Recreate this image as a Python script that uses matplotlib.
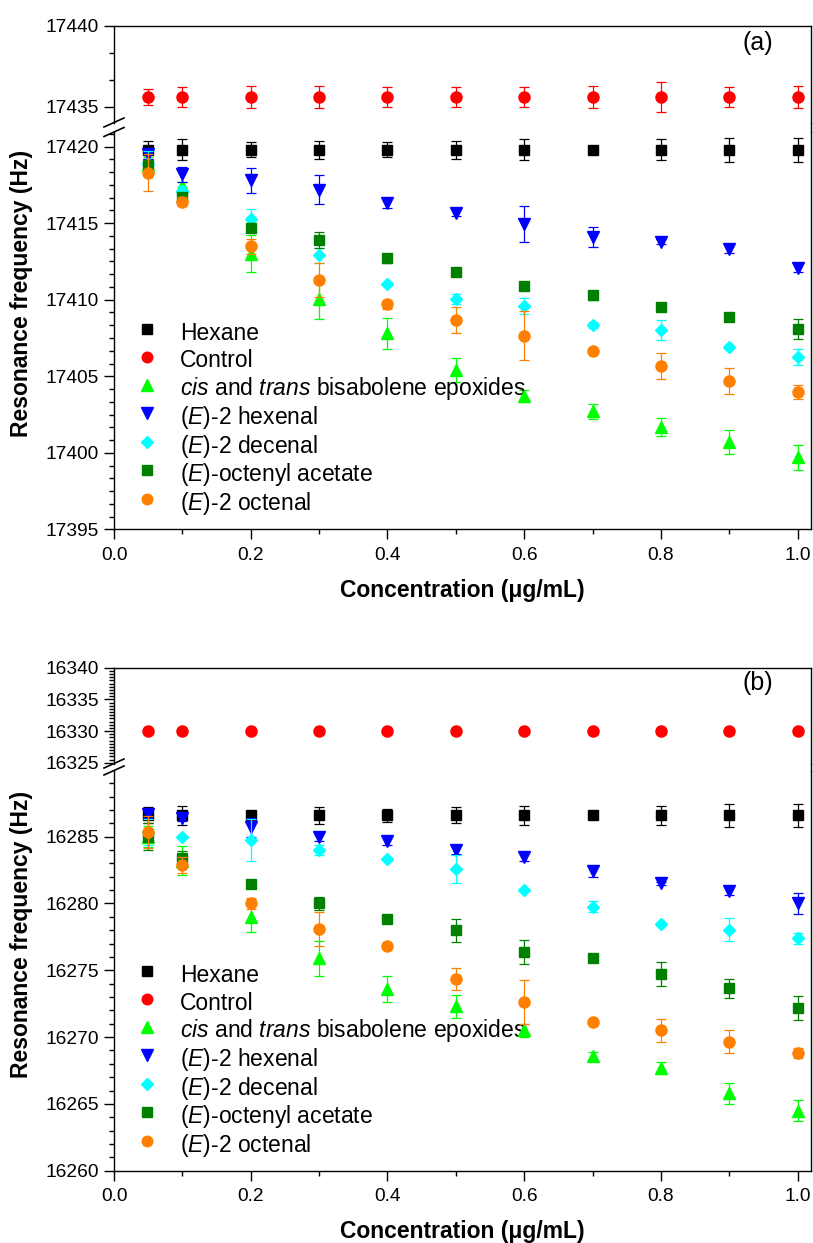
import matplotlib
matplotlib.use("Agg")
import matplotlib.pyplot as plt
from matplotlib.lines import Line2D
from matplotlib.ticker import MultipleLocator, FormatStrFormatter

plt.rcParams["font.family"] = ["Liberation Sans", "DejaVu Sans"]
plt.rcParams["mathtext.fontset"] = "custom"
plt.rcParams["mathtext.rm"] = "Liberation Sans"
plt.rcParams["mathtext.it"] = "Liberation Sans:italic"
plt.rcParams["mathtext.bf"] = "Liberation Sans:bold"

# ── data ──────────────────────────────────────────────────────────────────
conc = [0.05, 0.1, 0.2, 0.3, 0.4, 0.5, 0.6, 0.7, 0.8, 0.9, 1.0]

labels = ["Hexane", "Control",
          r"$\it{cis}$ and $\it{trans}$ bisabolene epoxides",
          r"$\it{(E)}$-2 hexenal", r"$\it{(E)}$-2 decenal",
          r"($\it{E}$)-octenyl acetate", r"$\it{(E)}$-2 octenal"]

# panel (a)
hexane_a = [17419.8, 17419.8, 17419.8, 17419.8, 17419.8, 17419.8, 17419.8, 17419.8, 17419.8, 17419.8, 17419.8]
hexane_a_err = [0.6, 0.7, 0.5, 0.6, 0.5, 0.6, 0.7, 0.1, 0.7, 0.8, 0.8]
control_a = [17435.6, 17435.6, 17435.6, 17435.6, 17435.6, 17435.6, 17435.6, 17435.6, 17435.6, 17435.6, 17435.6]
control_a_err = [0.5, 0.6, 0.7, 0.7, 0.6, 0.6, 0.6, 0.7, 0.9, 0.6, 0.7]
cis_a = [17418.8, 17417.4, 17413.0, 17410.05, 17407.8, 17405.4, 17403.7, 17402.7, 17401.7, 17400.7, 17399.7]
cis_a_err = [0.5, 0.3, 1.2, 1.3, 1.0, 0.8, 0.4, 0.5, 0.6, 0.8, 0.8]
hexenal_a = [17419.5, 17418.2, 17417.8, 17417.2, 17416.3, 17415.7, 17414.95, 17414.1, 17413.8, 17413.3, 17412.1]
hexenal_a_err = [0.3, 0.5, 0.8, 0.95, 0.3, 0.2, 1.2, 0.65, 0.15, 0.25, 0.3]
decenal_a = [17418.9, 17417.1, 17415.3, 17412.9, 17411.0, 17410.05, 17409.6, 17408.35, 17408.0, 17406.9, 17406.25]
decenal_a_err = [0.8, 0.3, 0.6, 0.5, 0.1, 0.35, 0.5, 0.2, 0.65, 0.1, 0.5]
octenyl_a = [17418.8, 17416.7, 17414.7, 17413.9, 17412.7, 17411.8, 17410.9, 17410.3, 17409.5, 17408.85, 17408.1]
octenyl_a_err = [0.3, 0.3, 0.3, 0.5, 0.3, 0.1, 0.1, 0.3, 0.1, 0.1, 0.65]
octenal_a = [17418.3, 17416.4, 17413.5, 17411.3, 17409.7, 17408.7, 17407.65, 17406.65, 17405.65, 17404.7, 17403.95]
octenal_a_err = [1.2, 0.3, 0.5, 1.1, 0.3, 0.85, 1.6, 0.1, 0.85, 0.85, 0.45]

# panel (b)
hexane_b = [16286.6, 16286.6, 16286.6, 16286.6, 16286.6, 16286.6, 16286.6, 16286.6, 16286.6, 16286.6, 16286.6]
hexane_b_err = [0.6, 0.7, 0.3, 0.65, 0.5, 0.6, 0.7, 0.1, 0.7, 0.85, 0.85]
control_b = [16330.0, 16330.0, 16330.0, 16330.0, 16330.0, 16330.0, 16330.0, 16330.0, 16330.0, 16330.0, 16330.0]
control_b_err = [0.2, 0.2, 0.2, 0.2, 0.2, 0.2, 0.2, 0.2, 0.4, 0.2, 0.2]
cis_b = [16285.0, 16283.2, 16279.0, 16275.9, 16273.6, 16272.3, 16270.5, 16268.55, 16267.7, 16265.8, 16264.5]
cis_b_err = [0.8, 1.1, 1.1, 1.3, 1.0, 0.85, 0.5, 0.35, 0.45, 0.8, 0.8]
hexenal_b = [16286.7, 16286.4, 16285.7, 16285.0, 16284.7, 16284.0, 16283.45, 16282.4, 16281.5, 16280.9, 16280.0]
hexenal_b_err = [0.3, 0.2, 0.7, 0.3, 0.3, 0.3, 0.3, 0.4, 0.1, 0.3, 0.8]
decenal_b = [16285.35, 16285.0, 16284.75, 16284.0, 16283.35, 16282.6, 16281.0, 16279.75, 16278.45, 16278.05, 16277.4]
decenal_b_err = [1.0, 0.1, 1.6, 0.4, 0.1, 1.05, 0.1, 0.4, 0.1, 0.85, 0.4]
octenyl_b = [16285.0, 16283.4, 16281.45, 16280.0, 16278.8, 16278.0, 16276.4, 16275.9, 16274.7, 16273.65, 16272.2]
octenyl_b_err = [1.0, 0.5, 0.1, 0.5, 0.1, 0.85, 0.9, 0.3, 0.9, 0.7, 0.9]
octenal_b = [16285.35, 16282.85, 16280.0, 16278.1, 16276.85, 16274.35, 16272.65, 16271.15, 16270.5, 16269.65, 16268.8]
octenal_b_err = [1.2, 0.6, 0.4, 1.25, 0.1, 0.8, 1.65, 0.1, 0.85, 0.85, 0.4]

colors = ["#000000", "#ff0000", "#00ff00", "#0000ff", "#00ffff", "#008000", "#ff8000"]
markers = ["s", "o", "^", "v", "D", "s", "o"]
msizes = [7.5, 8.0, 8.5, 8.5, 6.5, 7.5, 8.0]

W, H = 813, 1243
fig = plt.figure(figsize=(W / 100, H / 100), dpi=100)

X0, X1 = 114, 810.7


def fax(top_px, bot_px):
    return fig.add_axes([X0 / W, 1 - bot_px / H, (X1 - X0) / W, (bot_px - top_px) / H])


def style(ax, major, minor):
    ax.yaxis.set_major_locator(MultipleLocator(major))
    ax.yaxis.set_minor_locator(MultipleLocator(minor))
    ax.tick_params(axis="both", which="major", direction="out", length=7, width=1.0,
                   labelsize=13.8, pad=4)
    ax.tick_params(axis="x", which="major", pad=5.5)
    ax.tick_params(axis="both", which="minor", direction="out", length=3.8, width=1.0)
    ax.tick_params(right=False, top=False, which="both")
    for sp in ax.spines.values():
        sp.set_linewidth(1.0)


def panel(top_ax, bot_ax, series, ylim_top, ylim_bot, minor_top, minor_bot, tag,
          tag_y, ylab_y, leg_top):
    for i, (vals, errs) in enumerate(series):
        for ax in (top_ax, bot_ax):
            ax.errorbar(conc, vals, yerr=errs, fmt=markers[i], color=colors[i],
                        ms=msizes[i], mec=colors[i], ecolor=colors[i], elinewidth=0.9,
                        capsize=3.6, capthick=0.9, zorder=3 + i,
                        label=labels[i] if ax is bot_ax else None)
    top_ax.set_ylim(*ylim_top)
    bot_ax.set_ylim(*ylim_bot)
    for ax in (top_ax, bot_ax):
        ax.set_xlim(0, 1.019)
        ax.xaxis.set_major_locator(MultipleLocator(0.2))
        ax.xaxis.set_minor_locator(MultipleLocator(0.1))
    style(top_ax, 5, minor_top)
    style(bot_ax, 5, minor_bot)
    top_ax.spines["bottom"].set_visible(False)
    bot_ax.spines["top"].set_visible(False)
    top_ax.tick_params(axis="x", which="both", bottom=False, labelbottom=False)
    bot_ax.xaxis.set_major_formatter(FormatStrFormatter("%.1f"))
    bot_ax.set_xlabel("Concentration (\u03bcg/mL)", fontsize=16.5, fontweight="bold",
                      labelpad=11)

    # close the right-hand frame across the break, draw the // marks on the left
    y_a = top_ax.get_position().y0
    y_b = bot_ax.get_position().y1
    fig.add_artist(Line2D([X1 / W, X1 / W], [y_b, y_a], color="black", lw=1.0))
    for yc in (y_a, y_b):
        fig.add_artist(Line2D([(X0 - 10) / W, (X0 + 10) / W],
                              [yc - 4.5 / H, yc + 4.5 / H], color="black", lw=1.2))

    fig.text(758 / W, 1 - tag_y / H, tag, fontsize=18, ha="center", va="center")
    fig.text(22 / W, 1 - ylab_y / H, "Resonance frequency (Hz)", rotation=90,
             fontsize=16.5, fontweight="bold", ha="center", va="center")

    handles, labs = bot_ax.get_legend_handles_labels()
    handles = [h[0] for h in handles]  # markers only, no error bars
    bot_ax.legend(handles, labs, loc="upper left",
                  bbox_to_anchor=(135.5 / W, 1 - leg_top / H),
                  bbox_transform=fig.transFigure, frameon=False, fontsize=16.5,
                  handlelength=1.0, handleheight=1.5, handletextpad=0.95,
                  labelspacing=0.0, borderpad=0, borderaxespad=0, markerscale=0.95)


# panel (a)
ax_a_top = fax(26, 122.5)
ax_a_bot = fax(132, 529.3)
panel(ax_a_top, ax_a_bot,
      [(hexane_a, hexane_a_err), (control_a, control_a_err), (cis_a, cis_a_err),
       (hexenal_a, hexenal_a_err), (decenal_a, decenal_a_err),
       (octenyl_a, octenyl_a_err), (octenal_a, octenal_a_err)],
      (17434.02, 17440), (17395, 17420.96), 5 / 3, 5 / 6, "(a)", 43, 293, 318)

# panel (b)
ax_b_top = fax(667.7, 763.5)
ax_b_bot = fax(770.5, 1170.7)
panel(ax_b_top, ax_b_bot,
      [(hexane_b, hexane_b_err), (control_b, control_b_err), (cis_b, cis_b_err),
       (hexenal_b, hexenal_b_err), (decenal_b, decenal_b_err),
       (octenyl_b, octenyl_b_err), (octenal_b, octenal_b_err)],
      (16324.88, 16340), (16260, 16289.95), 0.5, 1, "(b)", 683, 934, 960)

fig.savefig("out.png", dpi=100)
